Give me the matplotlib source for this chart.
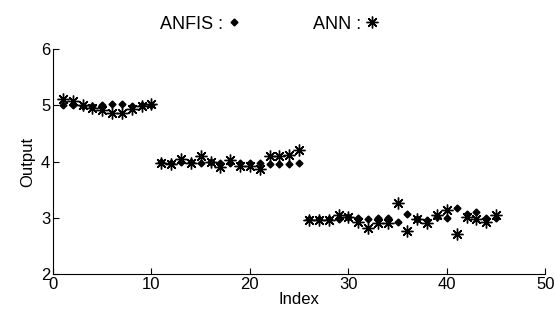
import numpy as np
from matplotlib import pyplot as plt

plt.rcParams['font.family'] = ['Liberation Sans', 'DejaVu Sans']

index = np.arange(1, 46)
anfis = [5.01, 5.00, 4.99, 4.98, 5.01, 5.02, 5.02, 4.99, 5.00, 5.01,
         3.99, 3.97, 4.00, 3.99, 3.98, 3.99, 3.97, 3.98, 3.97, 3.97,
         3.97, 3.96, 3.96, 3.96, 3.97,
         2.97, 2.97, 2.97, 2.98, 3.01, 2.99, 2.98, 3.00, 3.00, 2.93,
         3.07, 2.98, 2.96, 3.02, 3.00, 3.17, 3.07, 3.10, 3.00, 3.00]
ann = [5.12, 5.07, 5.00, 4.96, 4.92, 4.87, 4.87, 4.93, 4.98, 5.03,
       3.98, 3.95, 4.04, 3.98, 4.09, 4.00, 3.91, 4.02, 3.92, 3.92,
       3.86, 4.10, 4.10, 4.12, 4.21,
       2.96, 2.96, 2.96, 3.05, 3.02, 2.92, 2.82, 2.90, 2.90, 3.26,
       2.76, 2.98, 2.90, 3.05, 3.14, 2.71, 3.02, 2.98, 2.93, 3.05]

fig = plt.figure(figsize=(5.55, 3.27), dpi=100)
ax = fig.add_axes([0.0955, 0.162, 0.887, 0.688])

ax.plot(index, anfis, linestyle='none', marker='D', markersize=3.5,
        color='black', label='ANFIS :')
ax.plot(index, ann, linestyle='none', marker=(8, 2, 0), markersize=8.5,
        markeredgewidth=1.0, color='black', label='ANN :')

ax.set_xlim(0, 50)
ax.set_ylim(2, 6)
ax.set_xticks([0, 10, 20, 30, 40, 50])
ax.set_yticks([2, 3, 4, 5, 6])
ax.spines['top'].set_visible(False)
ax.spines['right'].set_visible(False)
ax.tick_params(direction='in', length=4, labelsize=12, pad=2)
ax.set_xlabel('Index', fontsize=12, labelpad=0)
ax.set_ylabel('Output', fontsize=12, labelpad=4)

ax.legend(loc='lower center', bbox_to_anchor=(0.44, 1.0), ncol=2,
          frameon=False, markerfirst=False, handlelength=0.8,
          handletextpad=0.2, columnspacing=4.0, fontsize=13)

plt.savefig('out.png', dpi=100)
